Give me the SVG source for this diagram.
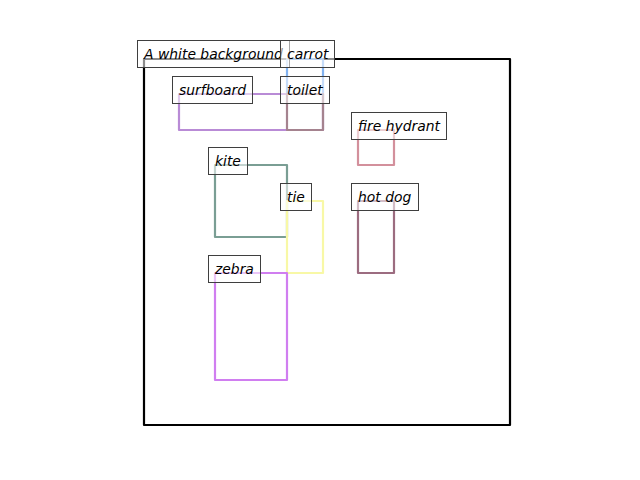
<svg xmlns="http://www.w3.org/2000/svg" width="640" height="480" viewBox="0 0 640 480">
<style>
.bb{fill:none;stroke-width:2.2;stroke-linejoin:round}
.lb rect{fill:#ffffff;fill-opacity:0.55;stroke:#3f3f3f;stroke-width:1}
.lb text{font-family:"DejaVu Sans",sans-serif;font-style:italic;font-size:13.9px;fill:#000}
</style>
<rect width="640" height="480" fill="#ffffff"/>
<g id="connectors"></g>
<g id="boxes">
<rect id="box-background" class="bb" x="144" y="59" width="366" height="366" stroke="#000000"/>
<rect id="box-carrot" class="bb" x="287" y="59" width="36" height="35" stroke="#73aaf0" stroke-opacity="0.9"/>
<rect id="box-surfboard" class="bb" x="179" y="94" width="144" height="36" stroke="#b98bd6"/>
<rect id="box-toilet" class="bb" x="287" y="94" width="36" height="36" stroke="#a5838f"/>
<rect id="box-kite" class="bb" x="215" y="165" width="72" height="72" stroke="#7a9e94"/>
<rect id="box-tie" class="bb" x="287" y="201" width="36" height="72" stroke="#f8f8a6"/>
<rect id="box-zebra" class="bb" x="215" y="273" width="72" height="107" stroke="#d07ef0"/>
<rect id="box-firehydrant" class="bb" x="358" y="130" width="36" height="35" stroke="#d3909c"/>
<rect id="box-hotdog" class="bb" x="358" y="201" width="36" height="72" stroke="#9c6c80"/>
</g>
<g id="node-background" class="lb"><rect x="137.5" y="40.5" width="152" height="27"/><text x="144" y="59">A white background</text></g>
<g id="node-carrot" class="lb"><rect x="280.5" y="40.5" width="54" height="27"/><text x="287" y="59">carrot</text></g>
<g id="node-surfboard" class="lb"><rect x="172.5" y="76.5" width="80" height="27"/><text x="179" y="95">surfboard</text></g>
<g id="node-toilet" class="lb"><rect x="280.5" y="76.5" width="49" height="27"/><text x="287" y="95">toilet</text></g>
<g id="node-firehydrant" class="lb"><rect x="351.5" y="112.5" width="95" height="27"/><text x="358" y="131">fire hydrant</text></g>
<g id="node-kite" class="lb"><rect x="208.5" y="147.5" width="39" height="27"/><text x="215" y="166">kite</text></g>
<g id="node-tie" class="lb"><rect x="280.5" y="183.5" width="31" height="27"/><text x="287" y="202">tie</text></g>
<g id="node-hotdog" class="lb"><rect x="351.5" y="183.5" width="67" height="27"/><text x="358" y="202">hot dog</text></g>
<g id="node-zebra" class="lb"><rect x="208.5" y="255.5" width="52" height="27"/><text x="215" y="274">zebra</text></g>
</svg>
